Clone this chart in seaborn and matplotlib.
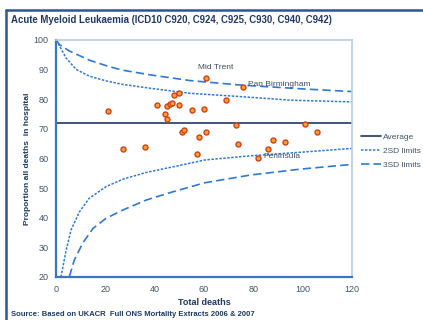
import matplotlib
matplotlib.use("Agg")
import matplotlib.pyplot as plt
from matplotlib.lines import Line2D
import seaborn as sns
import pandas as pd

# ---- data ----
deaths = [21, 27, 36, 41, 44, 45, 45, 46, 47, 48, 50, 50, 51, 52, 55,
          57, 58, 60, 61, 61, 69, 73, 74, 76, 82, 86, 88, 93, 101, 106]
prop = [76.2, 63.2, 64.0, 78.2, 75.1, 73.4, 77.8, 78.5, 78.9, 81.5, 82.2,
        78.2, 68.8, 69.5, 76.5, 61.6, 67.4, 76.8, 69.1, 87.1, 79.8, 71.4,
        65.0, 84.3, 60.0, 63.1, 66.2, 65.7, 71.5, 69.1]

average = 71.9
avg_x = [0, 120]

up3_x = [0, 1.2, 5.3, 13.4, 21.5, 27, 39.2, 54.4, 74.7, 100, 120]
up3_y = [100, 98.5, 96.3, 93.2, 91.0, 89.8, 88.1, 86.3, 84.8, 83.5, 82.6]
up2_x = [0, 0.6, 3.9, 8, 13.4, 20.2, 27, 39.2, 54.4, 74.7, 94.9, 120]
up2_y = [100, 99.1, 94.0, 90.1, 87.8, 86.2, 85.0, 83.6, 82.0, 80.9, 79.7, 79.1]
lo2_x = [1.9, 4, 6, 9.4, 13.4, 20.2, 27, 36.6, 47.5, 60.3, 78.7, 99, 120]
lo2_y = [20.0, 29.1, 35.9, 42.0, 46.6, 50.5, 53.0, 55.3, 57.2, 59.5, 60.9, 62.1, 63.4]
lo3_x = [5.3, 7.3, 10.7, 14.9, 20.2, 27, 36.6, 47.5, 60.3, 78.7, 99, 120]
lo3_y = [20.1, 25.7, 31.4, 36.4, 39.8, 42.6, 46.0, 48.8, 51.8, 54.4, 56.4, 58.0]

labels = ["Mid Trent", "Pan Birmingham", "Peninsula"]
label_x = [64.9, 77.8, 84.1]
label_y = [90.8, 85.0, 60.6]

title = "Acute Myeloid Leukaemia (ICD10 C920, C924, C925, C930, C940, C942)"
source = "Source: Based on UKACR  Full ONS Mortality Extracts 2006 & 2007"

# ---- drawing ----
sns.set_style("white")
plt.rcParams['font.family'] = ['Liberation Sans', 'DejaVu Sans']

navy = "#1F3864"
frame = "#2F5597"
curve = "#2E78D8"
tickc = "#44546A"

fig = plt.figure(figsize=(4.23, 3.2), dpi=100)
ax = fig.add_axes([56.3 / 423, 1 - 277 / 320, (351.7 - 56.3) / 423, (277 - 40) / 320])

pts = pd.DataFrame({"deaths": deaths, "prop": prop})
sns.lineplot(x=up3_x, y=up3_y, ax=ax, color=curve, lw=1.2, linestyle=(0, (5, 2.5)))
sns.lineplot(x=lo3_x, y=lo3_y, ax=ax, color=curve, lw=1.2, linestyle=(0, (5, 2.5)))
sns.lineplot(x=up2_x, y=up2_y, ax=ax, color=curve, lw=1.1, linestyle=(0, (1.6, 1.0)))
sns.lineplot(x=lo2_x, y=lo2_y, ax=ax, color=curve, lw=1.1, linestyle=(0, (1.6, 1.0)))
sns.lineplot(x=avg_x, y=[average, average], ax=ax, color=navy, lw=1.2)
sns.scatterplot(data=pts, x="deaths", y="prop", ax=ax, s=13, color="#F5A02A",
                edgecolor="#D2401A", linewidth=1.0, zorder=5)

for t, x, y in zip(labels, label_x, label_y):
    ha = "center" if t == "Mid Trent" else "left"
    ax.text(x, y, t, fontsize=6, color="#3F4A5C", ha=ha, va="center")

ax.set_xlim(0, 120)
ax.set_ylim(20, 100)
ax.set_xticks(range(0, 121, 20))
ax.set_yticks(range(20, 101, 10))
ax.tick_params(axis="both", labelsize=6.5, labelcolor=tickc, color=frame,
               direction="inout", length=4, width=1)
ax.set_xlabel("Total deaths", fontsize=6.5, fontweight="bold", color=navy, labelpad=3)
ax.set_ylabel("Proportion all deaths  in hospital", fontsize=6, fontweight="bold",
              color=navy, labelpad=2)
for s in ["left", "bottom"]:
    ax.spines[s].set_color("#3A75C4")
    ax.spines[s].set_linewidth(1.6)
for s in ["top", "right"]:
    ax.spines[s].set_color("#B8CCE4")
    ax.spines[s].set_linewidth(1.2)

handles = [Line2D([], [], color=navy, lw=1.2),
           Line2D([], [], color=curve, lw=1.1, linestyle=(0, (1.6, 1.0))),
           Line2D([], [], color=curve, lw=1.2, linestyle=(0, (5, 2.5)))]
fig.legend(handles, ["Average", "2SD limits", "3SD limits"], loc="upper left",
           bbox_to_anchor=(361 / 423, 1 - 133 / 320), frameon=False, fontsize=6,
           handlelength=2.4, handletextpad=0.25, labelspacing=0.75, labelcolor=tickc,
           borderaxespad=0, borderpad=0)

fig.text(11 / 423, 1 - 20 / 320, title, fontsize=6.9, fontweight="bold", color=navy,
         ha="left", va="center")
fig.text(11 / 423, 1 - 315 / 320, source, fontsize=5.5, fontweight="bold", color=navy,
         ha="left", va="center")

# outer frame (top and left)
fig.add_artist(Line2D([5.5 / 423, 1], [1 - 10 / 320, 1 - 10 / 320], color=frame, lw=1.8,
                      transform=fig.transFigure))
fig.add_artist(Line2D([5.5 / 423, 5.5 / 423], [0, 1 - 10 / 320], color=frame, lw=1.8,
                      transform=fig.transFigure))

fig.savefig("out.png", dpi=100)
